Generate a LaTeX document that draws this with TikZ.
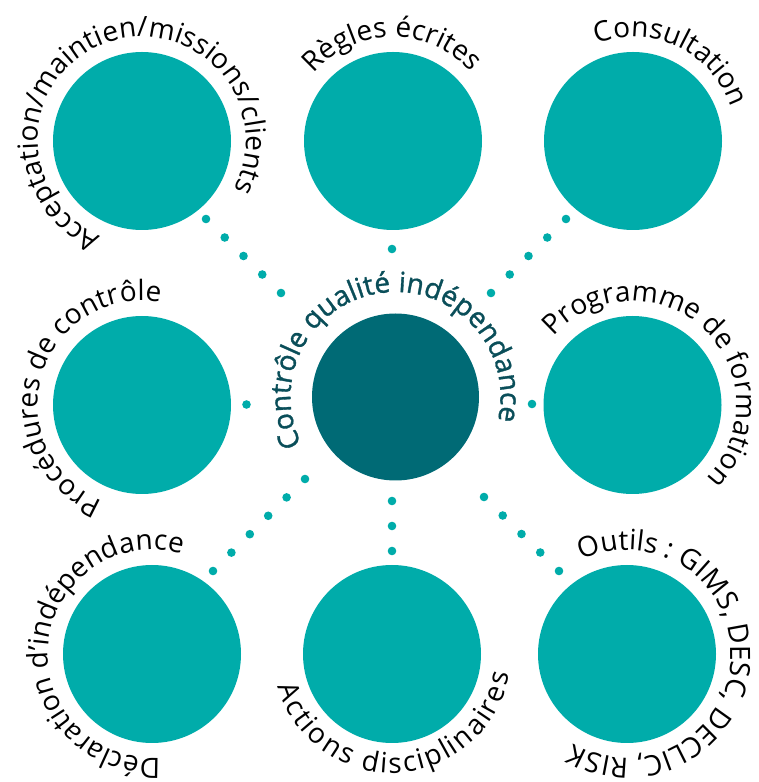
\documentclass[tikz,border=0pt]{standalone}
\usepackage{fontspec}
\setmainfont{Open Sans}
\newfontfamily\titlefont{Open Sans}[FakeBold=1.2]
\usetikzlibrary{decorations.text,calc}
\definecolor{tealA}{HTML}{00ACAA}
\definecolor{tealB}{HTML}{006A75}
\definecolor{titlecol}{HTML}{0A4E59}
\newcommand\lblfont{\fontsize{28}{32}\selectfont}
\newcommand\ttlfont{\titlefont\fontsize{28}{32}\selectfont\color{titlecol}}
% clockwise text (tops outward), centred at angle #2
\newcommand\cwtext[4]{%
  \path[decorate, decoration={text along path, text={#4}, text align=center}]
    (#1) ++(#2+180:#3) arc[start angle=#2+180, end angle=#2-180, radius=#3];}
% counter-clockwise text (tops inward), centred at angle #2
\newcommand\ccwtext[5]{%
  \path[decorate, decoration={text along path, text={#4}, text align=center, raise=#5}]
    (#1) ++(#2-180:#3) arc[start angle=#2-180, end angle=#2+180, radius=#3];}
\begin{document}
\begin{tikzpicture}[x=1pt,y=1pt,
  outer/.style={circle, fill=tealA, minimum size=178pt, inner sep=0pt},
  hub/.style={circle, fill=tealB, minimum size=167pt, inner sep=0pt},
  dotfill/.style={fill=tealA}]
\useasboundingbox (0,0) rectangle (758,782);
% circles
\node[hub]   (C)  at (395.5,385) {};
\node[outer] (TL) at (142,641) {};
\node[outer] (TM) at (393,641) {};
\node[outer] (TR) at (633,641) {};
\node[outer] (ML) at (142,377) {};
\node[outer] (MR) at (632.5,377) {};
\node[outer] (BL) at (152,128) {};
\node[outer] (BM) at (392,128) {};
\node[outer] (BR) at (627,128) {};
% dotted connectors
\coordinate (tla) at (206,563); \coordinate (tlb) at (281,489);
\coordinate (tra) at (566,563); \coordinate (trb) at (491,489);
\coordinate (bla) at (213,211); \coordinate (blb) at (305,303);
\coordinate (bra) at (559,211); \coordinate (brb) at (484,285);
\coordinate (bma) at (392,231); \coordinate (bmb) at (392,281);
\coordinate (tmd) at (392,533);
\coordinate (mld) at (246.5,377.5);
\coordinate (mrd) at (532,378);
\foreach \p in {0,0.25,0.5,0.75,1} {
  \fill[dotfill] ($(tla)!\p!(tlb)$) circle (4.3);
  \fill[dotfill] ($(tra)!\p!(trb)$) circle (4.3);
  \fill[dotfill] ($(bra)!\p!(brb)$) circle (4.3);
}
\foreach \p in {0,0.2,0.4,0.6,0.8,1} \fill[dotfill] ($(bla)!\p!(blb)$) circle (4.3);
\foreach \p in {0,0.5,1} \fill[dotfill] ($(bma)!\p!(bmb)$) circle (4.3);
\fill[dotfill] (tmd) circle (4.3);
\fill[dotfill] (mld) circle (4.3);
\fill[dotfill] (mrd) circle (4.3);
% labels
\cwtext{TL}{109.5}{104}{|\lblfont|Acceptation/maintien/missions/clients}
\cwtext{TM}{90.5}{104}{|\lblfont|Règles écrites}
\cwtext{TR}{64.5}{104}{|\lblfont|Consultation}
\cwtext{ML}{163.8}{104}{|\lblfont|Procédures de contrôle}
\cwtext{MR}{47.2}{104}{|\lblfont|Programme de formation}
\cwtext{BL}{174}{104}{|\lblfont|Déclaration d'indépendance}
\ccwtext{BM}{273}{100}{|\lblfont|Actions disciplinaires}{-19pt}
\cwtext{BR}{-2.5}{104}{|\lblfont|Outils : GIMS, DESC, DECLIC, RISK}
\cwtext{C}{96.9}{105}{|\ttlfont|Contrôle qualité indépendance}
\end{tikzpicture}
\end{document}
